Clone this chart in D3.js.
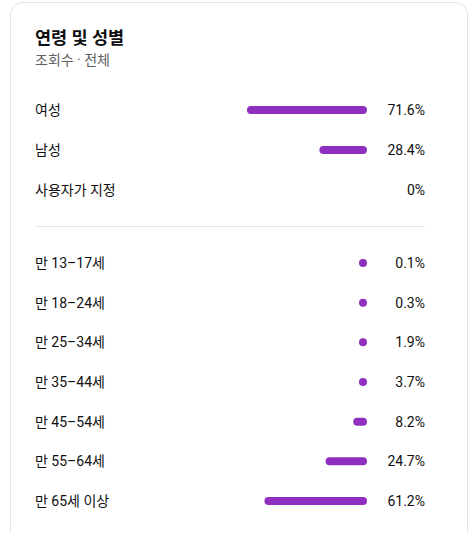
<!DOCTYPE html>
<html><head><meta charset="utf-8">
<script src="https://cdn.jsdelivr.net/npm/d3@7"></script>
<style>
html,body{margin:0;padding:0;background:#fff;}
svg{display:block;}
text{font-family:Roboto,"Noto Sans CJK KR",sans-serif;}
</style></head>
<body>
<script>
const title = "연령 및 성별";
const subtitle = "조회수 · 전체";
const genderCategories = ["여성", "남성", "사용자가 지정"];
const genderValues = [71.6, 28.4, 0];
const genderLabels = ["71.6%", "28.4%", "0%"];
const ageCategories = ["만 13–17세", "만 18–24세", "만 25–34세", "만 35–44세", "만 45–54세", "만 55–64세", "만 65세 이상"];
const ageValues = [0.1, 0.3, 1.9, 3.7, 8.2, 24.7, 61.2];
const ageLabels = ["0.1%", "0.3%", "1.9%", "3.7%", "8.2%", "24.7%", "61.2%"];

const W = 469, H = 533;
const svg = d3.select("body").append("svg").attr("width", W).attr("height", H);

svg.append("rect").attr("x", 10.5).attr("y", 2.5).attr("width", 457).attr("height", 700)
  .attr("rx", 12).attr("fill", "#fff").attr("stroke", "#e3e3e3");

svg.append("text").attr("x", 35).attr("y", 44).text(title)
  .attr("font-size", 17.5).attr("font-weight", "bold").attr("fill", "#0f0f0f");
svg.append("text").attr("x", 35).attr("y", 65).text(subtitle)
  .attr("font-size", 14).attr("fill", "#606060");

const barRight = 367, barH = 8;
const x = d3.scaleLinear().domain([0, 100]).range([0, 167.6]);
const color = "#8e2fc0";

function drawGroup(cats, vals, labs, y0, y1) {
  const y = d3.scalePoint().domain(cats).range([y0, y1]);
  const g = svg.append("g");
  cats.forEach((c, i) => {
    const cy = y(c);
    g.append("text").attr("x", 35).attr("y", cy).attr("dy", "0.35em").text(c)
      .attr("font-size", 14).attr("fill", "#0f0f0f");
    if (vals[i] > 0) {
      const w = Math.max(barH, x(vals[i]));
      g.append("rect").attr("x", barRight - w).attr("y", cy - barH / 2)
        .attr("width", w).attr("height", barH).attr("rx", barH / 2).attr("fill", color);
    }
    g.append("text").attr("x", 425).attr("y", cy).attr("dy", "0.35em").attr("text-anchor", "end")
      .text(labs[i]).attr("font-size", 14).attr("fill", "#0f0f0f");
  });
}
drawGroup(genderCategories, genderValues, genderLabels, 110, 190);
svg.append("line").attr("x1", 35).attr("x2", 425).attr("y1", 226.5).attr("y2", 226.5)
  .attr("stroke", "#e5e5e5");
drawGroup(ageCategories, ageValues, ageLabels, 263, 501);
</script>
</body></html>
